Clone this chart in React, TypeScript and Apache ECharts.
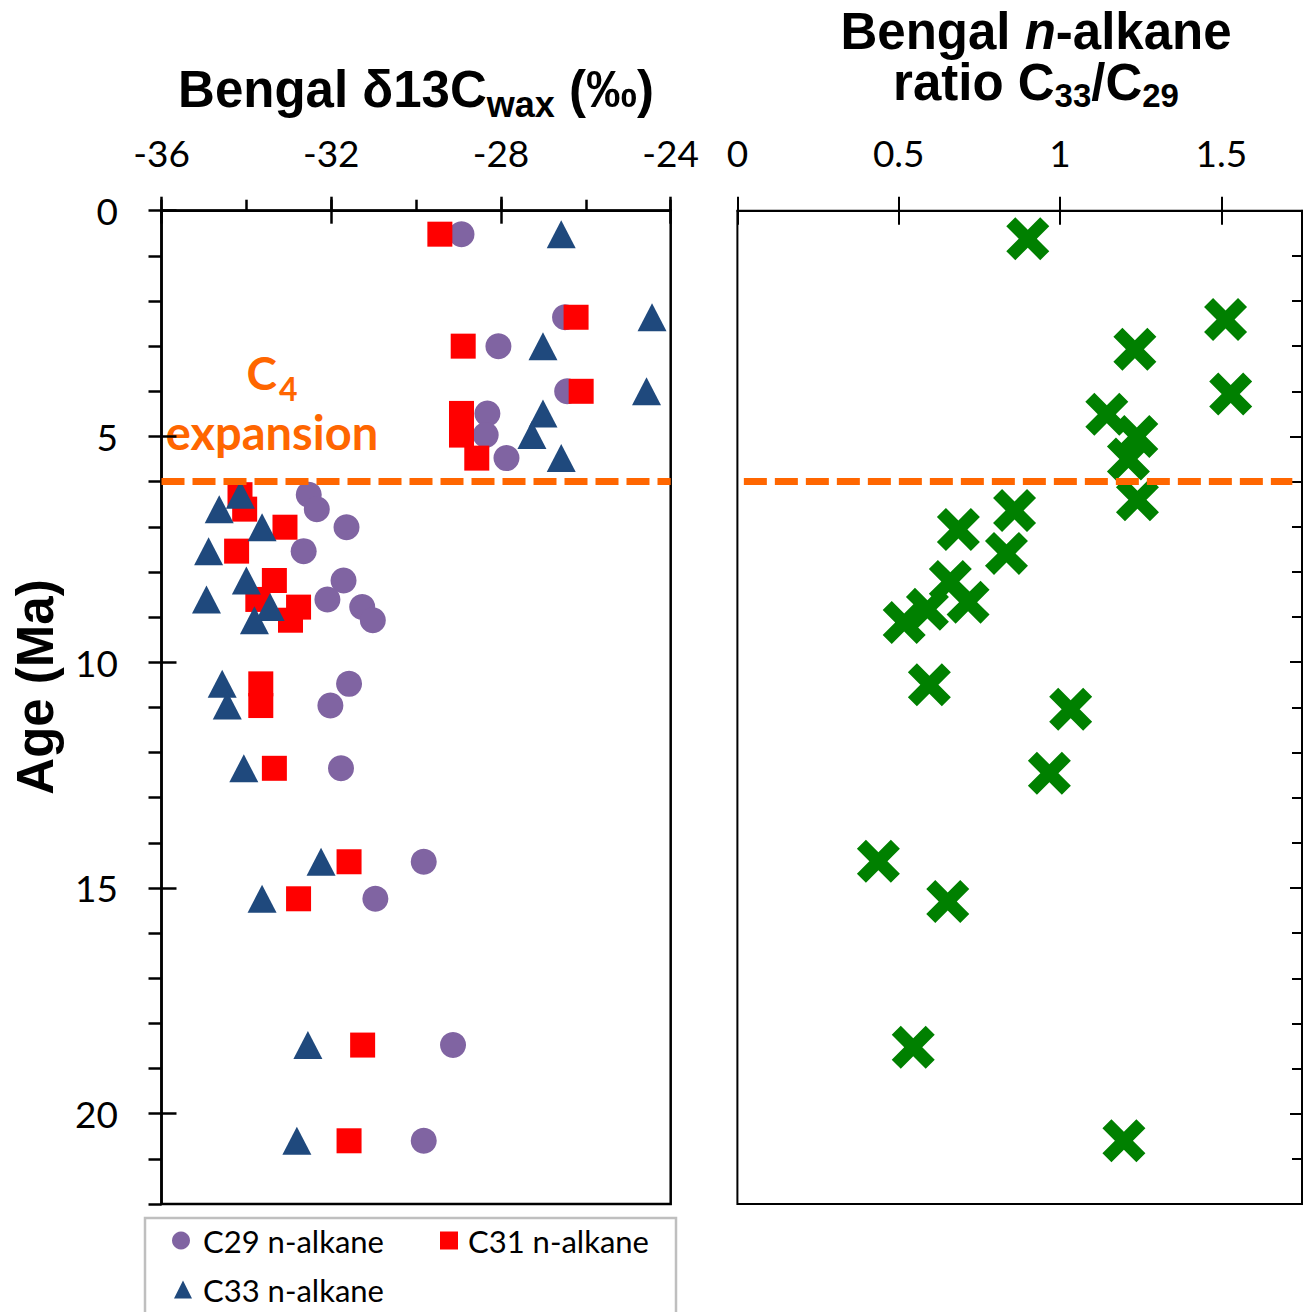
import React, { useEffect, useRef } from 'react';
import * as echarts from 'echarts';

// Ages (Ma) of the samples
const ages = [0.52, 2.36, 3.0, 4.0, 4.49, 4.97, 5.48, 6.29, 6.61, 7.01, 7.54, 8.19, 8.61, 8.78, 9.07, 10.48, 10.96, 12.35, 14.42, 15.24, 18.48, 20.6];
// δ13C values (‰)
const c29 = [-28.93, -26.49, -28.06, -26.44, -28.32, -28.36, -27.87, -32.53, -32.34, -31.64, -32.65, -31.71, -32.09, -31.27, -31.02, -31.58, -32.02, -31.77, -29.82, -30.96, -29.13, -29.82];
const c31 = [-29.44, -26.23, -28.89, -26.11, -28.93, -28.93, -28.57, -34.15, -34.04, -33.09, -34.23, -33.34, -33.73, -32.77, -32.96, -33.66, -33.66, -33.34, -31.58, -32.77, -31.26, -31.58];
const c33 = [-26.58, -24.44, -27.01, -24.57, -27.01, -27.27, -26.58, -34.14, -34.64, -33.63, -34.89, -34.0, -34.94, -33.44, -33.81, -34.57, -34.45, -34.06, -32.24, -33.63, -32.55, -32.81];
// Ratio panel
const ratioAges = [0.62, 2.41, 3.07, 4.06, 4.51, 5.0, 5.5, 6.4, 6.64, 7.06, 7.59, 8.21, 8.67, 8.83, 9.12, 10.5, 11.04, 12.46, 14.41, 15.3, 18.53, 20.6];
const ratio = [0.9, 1.513, 1.232, 1.529, 1.145, 1.238, 1.212, 1.24, 0.859, 0.685, 0.834, 0.66, 0.715, 0.589, 0.517, 0.595, 1.033, 0.967, 0.437, 0.652, 0.545, 1.198];

const c4Age = 6;
const leftXTicks = [-36, -32, -28, -24];
const rightXTicks = [0, 0.5, 1, 1.5];
const ageTicks = [0, 5, 10, 15, 20];

const CROSS = 'path://M0,21 L21,0 L50,29 L79,0 L100,21 L71,50 L100,79 L79,100 L50,71 L21,100 L0,79 L29,50 Z';

export default function App() {
  const ref = useRef<HTMLDivElement>(null);
  useEffect(() => {
    const chart = echarts.init(ref.current!, null, { renderer: 'svg' });
    const black = '#000';
    const tickFont = { fontFamily: 'Lato', fontSize: 37, color: black };
    const dash = {
      silent: true,
      symbol: ['none', 'none'],
      label: { show: false },
      emphasis: { disabled: true },
      lineStyle: { color: '#FF6600', width: 7, type: [23, 8] as any, opacity: 1 },
    };
    const titleRichA = { fontFamily: 'Liberation Sans', fontWeight: 'bold', color: black };
    const noLine = { show: false, onZero: false };
    const option: any = {
      animation: false,
      backgroundColor: '#fff',
      title: [
        {
          text: '{a|Bengal δ13C}{s|wax}{a| (‰)}',
          left: 416,
          top: 59,
          textAlign: 'center',
          padding: 0,
          textStyle: {
            ...titleRichA, fontSize: 51, lineHeight: 60,
            rich: {
              a: { ...titleRichA, fontSize: 51, lineHeight: 60 },
              s: { ...titleRichA, fontSize: 36, lineHeight: 60, height: 30, verticalAlign: 'bottom' },
            },
          },
        },
        {
          text: '{a|Bengal }{i|n}{a|-alkane}',
          left: 1036,
          top: 6,
          textAlign: 'center',
          padding: 0,
          textStyle: {
            ...titleRichA, fontSize: 51, lineHeight: 50,
            rich: {
              a: { ...titleRichA, fontSize: 51, lineHeight: 50 },
              i: { ...titleRichA, fontSize: 51, lineHeight: 50, fontStyle: 'italic' },
            },
          },
        },
        {
          text: '{a|ratio C}{s|33}{a|/C}{s|29}',
          left: 1036,
          top: 57,
          textAlign: 'center',
          padding: 0,
          textStyle: {
            ...titleRichA, fontSize: 51, lineHeight: 50,
            rich: {
              a: { ...titleRichA, fontSize: 51, lineHeight: 50 },
              s: { ...titleRichA, fontSize: 33, lineHeight: 50, height: 23, verticalAlign: 'bottom' },
            },
          },
        },
      ],
      grid: [
        { left: 161.5, top: 210.7, width: 509.2, height: 993.3, show: true, borderColor: black, borderWidth: 2.5, backgroundColor: 'transparent' },
        { left: 737.4, top: 210.7, width: 564.6, height: 993.3, show: true, borderColor: black, borderWidth: 2, backgroundColor: 'transparent' },
      ],
      xAxis: [
        {
          gridIndex: 0, type: 'value', position: 'top', min: -36, max: -24, interval: 4,
          axisLine: { show: true, onZero: false, lineStyle: { color: black, width: 2.5 } },
          axisTick: { show: true, length: 14, lineStyle: { color: black, width: 2.5 } },
          axisLabel: { ...tickFont, margin: 40, customValues: leftXTicks },
          splitLine: { show: false },
        },
        {
          gridIndex: 0, type: 'value', position: 'top', min: -36, max: -24, interval: 2,
          axisLine: noLine,
          axisTick: { show: true, length: 11, lineStyle: { color: black, width: 2.5 } },
          axisLabel: { show: false }, splitLine: { show: false },
        },
        {
          gridIndex: 0, type: 'value', position: 'top', min: -36, max: -24, interval: 4,
          axisLine: noLine,
          axisTick: { show: true, inside: true, length: 13, lineStyle: { color: black, width: 2.5 } },
          axisLabel: { show: false }, splitLine: { show: false },
        },
        {
          gridIndex: 1, type: 'value', position: 'top', min: 0, max: 1.75, interval: 0.5,
          axisLine: { show: true, onZero: false, lineStyle: { color: black, width: 2 } },
          axisTick: { show: true, length: 14, customValues: rightXTicks, lineStyle: { color: black, width: 2 } },
          axisLabel: { ...tickFont, margin: 40, customValues: rightXTicks },
          splitLine: { show: false },
        },
        {
          gridIndex: 1, type: 'value', position: 'top', min: 0, max: 1.75, interval: 0.5,
          axisLine: noLine,
          axisTick: { show: true, inside: true, length: 14, customValues: rightXTicks, lineStyle: { color: black, width: 2 } },
          axisLabel: { show: false }, splitLine: { show: false },
        },
      ],
      yAxis: [
        {
          gridIndex: 0, type: 'value', inverse: true, position: 'left', min: 0, max: 22, interval: 1,
          axisLine: { show: true, onZero: false, lineStyle: { color: black, width: 2.5 } },
          axisTick: { show: true, length: 13, lineStyle: { color: black, width: 2.5 } },
          axisLabel: { ...tickFont, margin: 43.5, customValues: ageTicks },
          splitLine: { show: false },
        },
        {
          gridIndex: 0, type: 'value', inverse: true, position: 'left', min: 0, max: 22, interval: 5,
          axisLine: noLine,
          axisTick: { show: true, inside: true, length: 15, customValues: ageTicks, lineStyle: { color: black, width: 2.5 } },
          axisLabel: { show: false }, splitLine: { show: false },
        },
        {
          gridIndex: 1, type: 'value', inverse: true, position: 'right', min: 0, max: 22, interval: 1,
          axisLine: { show: true, onZero: false, lineStyle: { color: black, width: 2 } },
          axisTick: { show: true, inside: true, length: 10, lineStyle: { color: black, width: 2 } },
          axisLabel: { show: false }, splitLine: { show: false },
        },
        {
          gridIndex: 1, type: 'value', inverse: true, position: 'right', min: 0, max: 22, interval: 5,
          axisLine: noLine,
          axisTick: { show: true, inside: true, length: 12, customValues: ageTicks, lineStyle: { color: black, width: 2 } },
          axisLabel: { show: false }, splitLine: { show: false },
        },
      ],
      legend: [
        { data: ['C29 n-alkane'], left: 172, top: 1225, padding: 0, itemWidth: 18, itemHeight: 18, selectedMode: false,
          textStyle: { fontFamily: 'Lato', fontSize: 31, color: black, padding: [0, 0, 0, 8] } },
        { data: ['C31 n-alkane'], left: 440, top: 1225, padding: 0, itemWidth: 18, itemHeight: 18, selectedMode: false,
          textStyle: { fontFamily: 'Lato', fontSize: 31, color: black, padding: [0, 0, 0, 5] } },
        { data: ['C33 n-alkane'], left: 174, top: 1274, padding: 0, itemWidth: 18, itemHeight: 18, selectedMode: false,
          textStyle: { fontFamily: 'Lato', fontSize: 31, color: black, padding: [0, 0, 0, 6] } },
      ],
      graphic: [
        { type: 'rect', shape: { x: 145, y: 1218, width: 531, height: 130 }, style: { fill: 'none', stroke: '#BFBFBF', lineWidth: 2.5 }, silent: true },
        { type: 'text', x: 277, y: 372, style: { text: 'C', font: 'bold 46px Lato', fill: '#FF6600', textAlign: 'right', textVerticalAlign: 'middle' } },
        { type: 'text', x: 279, y: 388, style: { text: '4', font: 'bold 32px Lato', fill: '#FF6600', textAlign: 'left', textVerticalAlign: 'middle' } },
        { type: 'text', x: 272, y: 432, style: { text: 'expansion', font: 'bold 47px Lato', fill: '#FF6600', textAlign: 'center', textVerticalAlign: 'middle' } },
        { type: 'text', x: 35, y: 687, rotation: Math.PI / 2, style: { text: 'Age (Ma)', font: 'bold 51px "Liberation Sans"', fill: black, textAlign: 'center', textVerticalAlign: 'middle' } },
      ],
      series: [
        {
          name: 'C29 n-alkane', type: 'scatter', xAxisIndex: 0, yAxisIndex: 0,
          symbol: 'circle', symbolSize: 26,
          itemStyle: { color: '#8064A2', opacity: 1 },
          emphasis: { disabled: true },
          data: ages.map((a, i) => [c29[i], a]),
          markLine: { ...dash, data: [{ yAxis: c4Age }] },
        },
        {
          name: 'C31 n-alkane', type: 'scatter', xAxisIndex: 0, yAxisIndex: 0,
          symbol: 'rect', symbolSize: 25,
          itemStyle: { color: '#FF0000', opacity: 1 },
          emphasis: { disabled: true },
          data: ages.map((a, i) => [c31[i], a]),
        },
        {
          name: 'C33 n-alkane', type: 'scatter', xAxisIndex: 0, yAxisIndex: 0,
          symbol: 'triangle', symbolSize: [29, 28],
          itemStyle: { color: '#1F497D', opacity: 1 },
          emphasis: { disabled: true },
          data: ages.map((a, i) => [c33[i], a]),
        },
        {
          name: 'C33/C29', type: 'scatter', xAxisIndex: 3, yAxisIndex: 2,
          symbol: CROSS, symbolSize: 43,
          itemStyle: { color: '#008000', opacity: 1 },
          emphasis: { disabled: true },
          data: ratioAges.map((a, i) => [ratio[i], a]),
          markLine: { ...dash, data: [[{ coord: [0.02, c4Age] }, { coord: [1.72, c4Age] }]] },
        },
      ],
    };
    chart.setOption(option);
    return () => chart.dispose();
  }, []);
  return <div ref={ref} style={{ position: 'absolute', left: 0, top: 0, width: 1304, height: 1312 }} />;
}
